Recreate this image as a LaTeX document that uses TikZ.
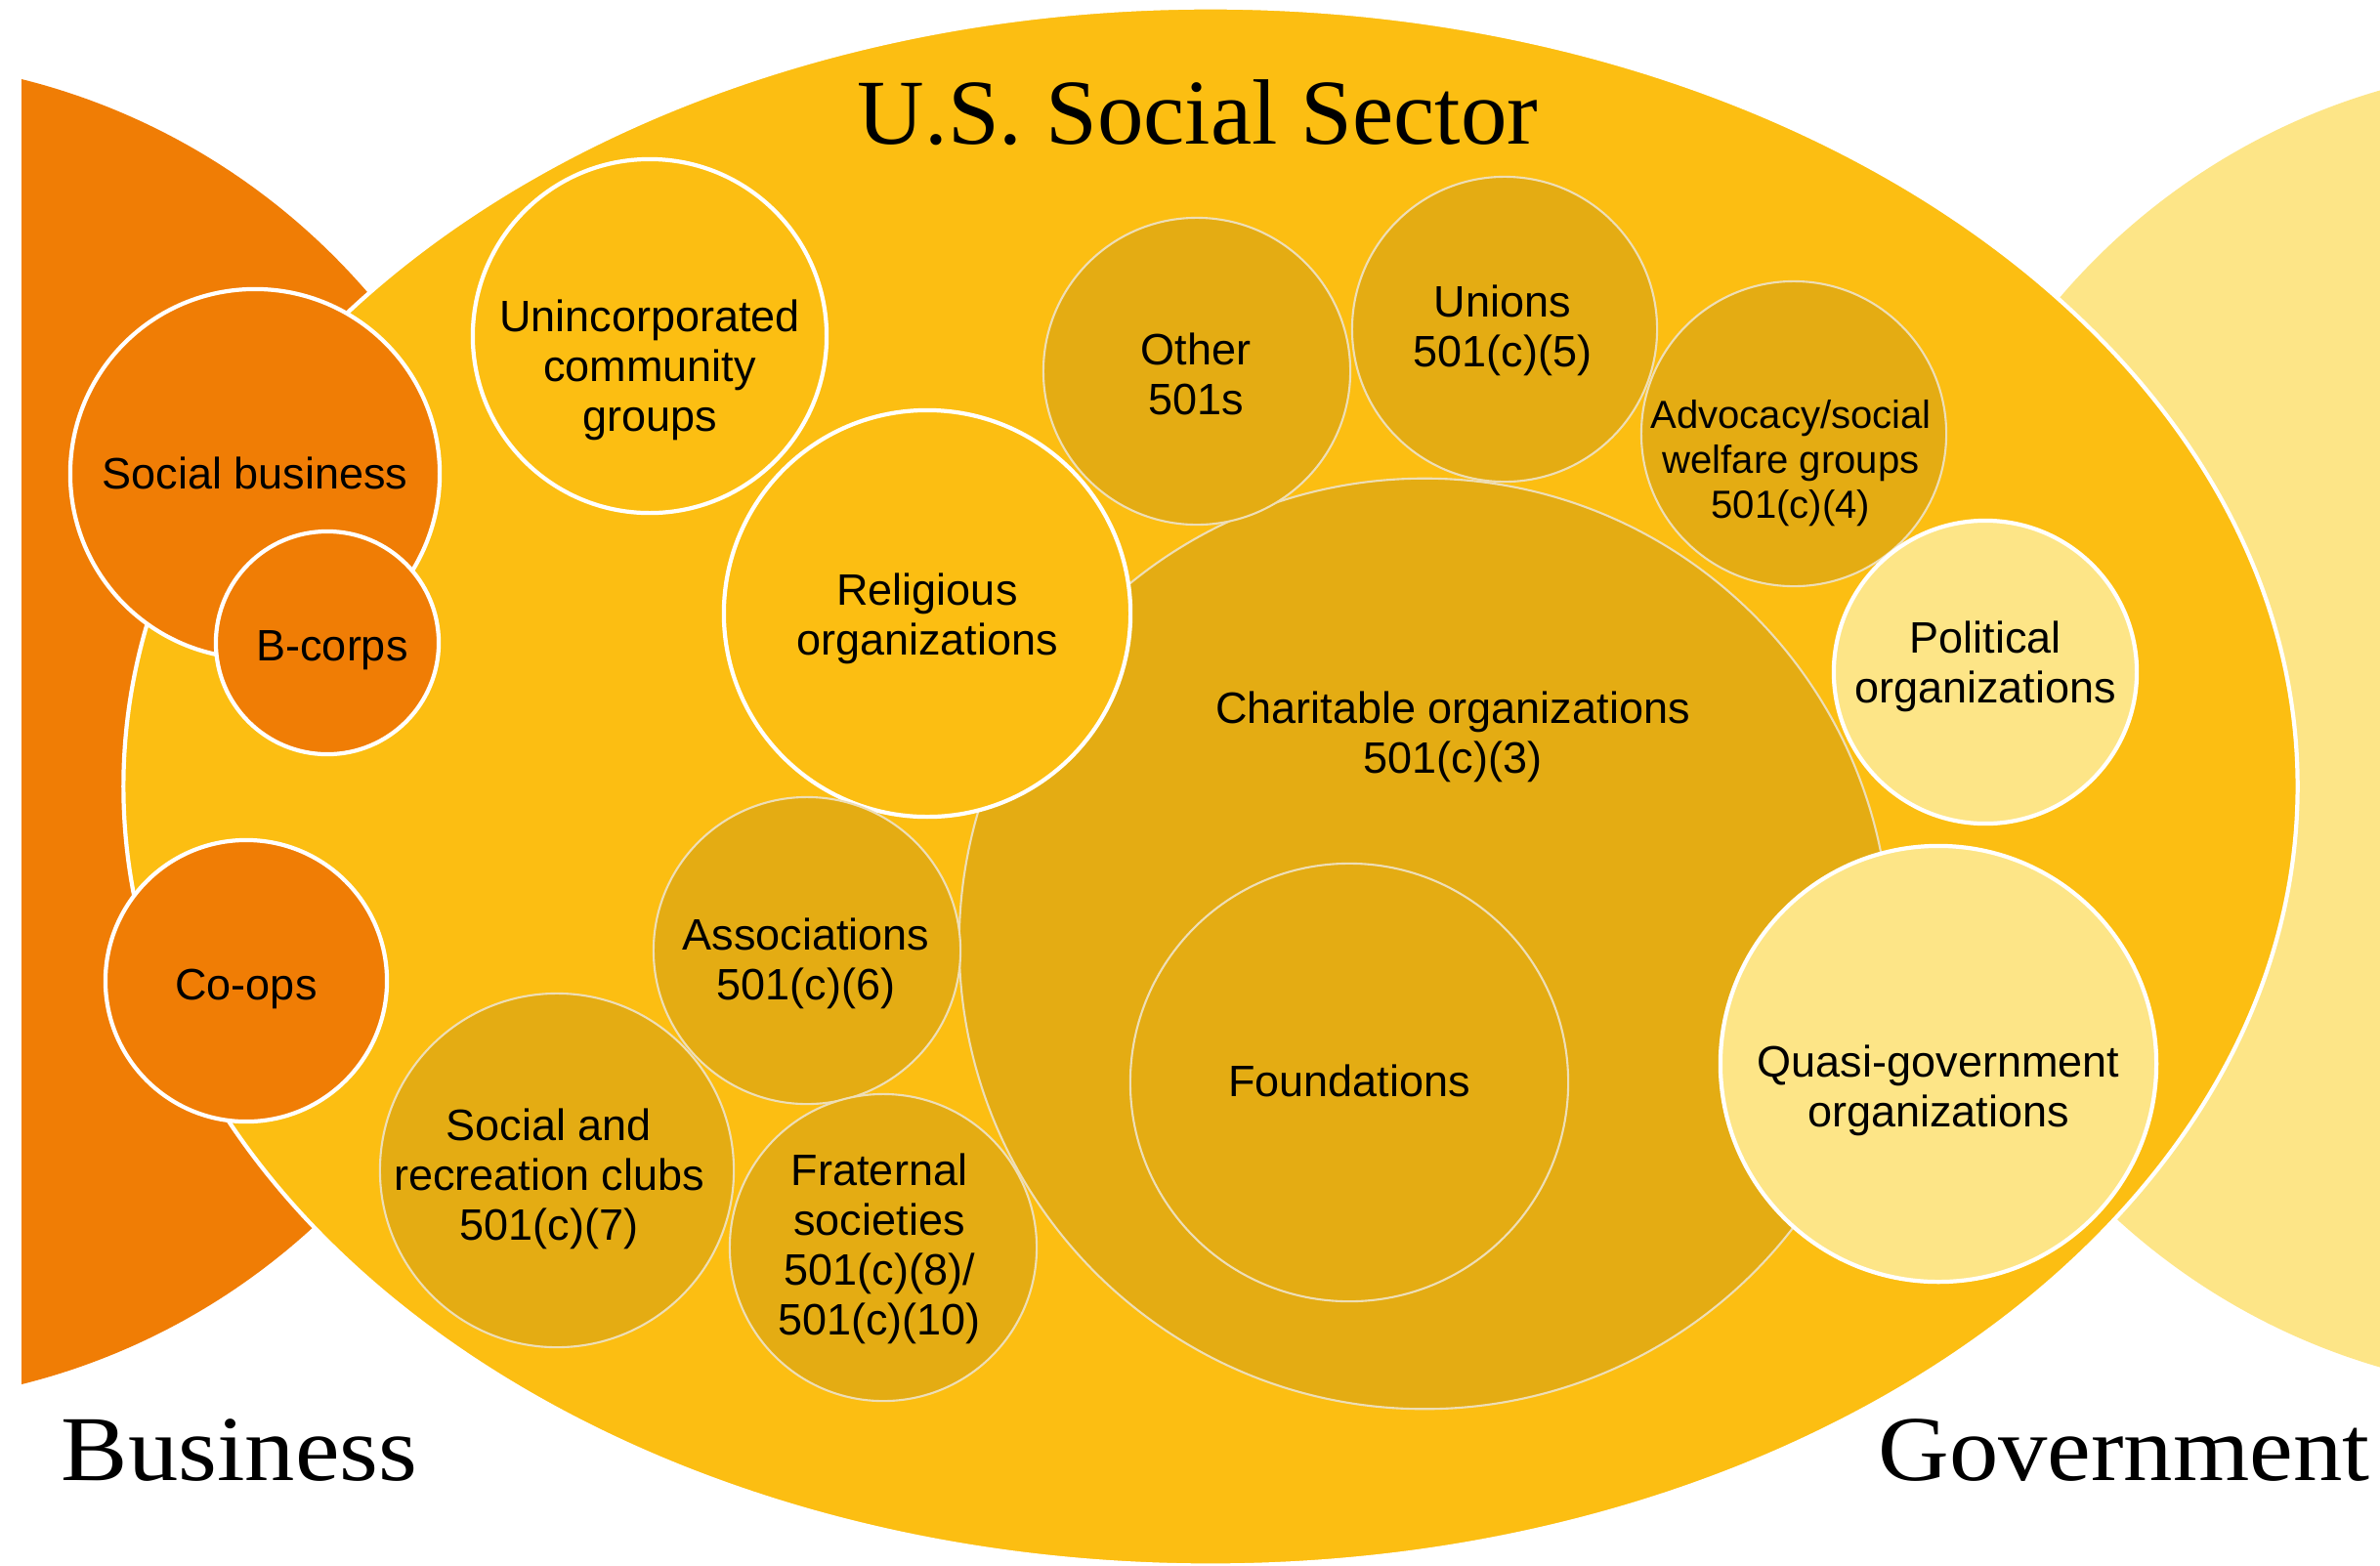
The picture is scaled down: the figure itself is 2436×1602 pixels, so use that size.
\documentclass[tikz,border=0pt]{standalone}
\usepackage{fontspec}
\setmainfont{Liberation Serif}
\setsansfont{Liberation Sans}
\usetikzlibrary{shapes.geometric}

\definecolor{sectoryellow}{RGB}{252,190,18}
\definecolor{bizorange}{RGB}{240,125,5}
\definecolor{govpale}{RGB}{253,229,135}
\definecolor{taxgold}{RGB}{228,172,19}
\definecolor{goldrim}{RGB}{238,222,182}

\tikzset{
  ball/.style={circle, inner sep=0pt, outer sep=0pt},
  whiteball/.style={ball, draw=white, line width=1.2pt},
  orangeball/.style={whiteball, fill=bizorange},
  yellowball/.style={whiteball, fill=sectoryellow},
  paleball/.style={whiteball, fill=govpale},
  goldball/.style={ball, fill=taxgold, draw=goldrim, line width=0.6pt},
  lbl/.style={align=center, inner sep=0pt, text=black,
    font=\sffamily\fontsize{12.8}{14.5}\selectfont},
  smalllbl/.style={lbl, font=\sffamily\fontsize{11.4}{13.1}\selectfont},
  heading/.style={inner sep=0pt, anchor=base, text=black,
    font=\rmfamily\fontsize{27}{30}\selectfont},
}

\begin{document}
\begin{tikzpicture}[x=0.01cm, y=-0.01cm]
\useasboundingbox (0,0) rectangle (2436,1602);

% the two neighbouring sectors, cut off at the page edges
\begin{scope}
  \clip (22,0) rectangle (2436,1602);
  \node (business) [ball, fill=bizorange, minimum size=13.76cm] at (-145,749) {};
  \node (government) [ball, fill=govpale, minimum size=13.6cm] at (2626,746) {};
\end{scope}

% the social sector
\node (sector) [ellipse, inner sep=0pt, fill=sectoryellow, draw=white, line width=1.2pt,
  minimum width=22.24cm, minimum height=15.94cm] at (1239,805) {};

% business-side organisations
\node (socbiz) [orangeball, minimum size=3.78cm] at (261,485) {};
\node (bcorps) [orangeball, minimum size=2.28cm] at (335,658) {};
\node (coops)  [orangeball, minimum size=2.88cm] at (252,1004) {};

% tax-exempt groups
\node (charit) [goldball, minimum size=9.52cm] at (1458,966) {};
\node (found)  [goldball, minimum size=4.48cm] at (1381,1108) {};
\node (relig)  [yellowball, minimum size=4.16cm] at (949,628) {};
\node (other)  [goldball, minimum size=3.14cm] at (1225,380) {};
\node (unions) [goldball, minimum size=3.12cm] at (1540,337) {};
\node (advoc)  [goldball, minimum size=3.12cm] at (1836,444) {};
\node (assoc)  [goldball, minimum size=3.14cm] at (826,973) {};
\node (socrec) [goldball, minimum size=3.62cm] at (570,1198) {};
\node (frat)   [goldball, minimum size=3.14cm] at (904,1277) {};
\node (uninc)  [yellowball, minimum size=3.62cm] at (665,344) {};

% government-side organisations
\node (polit) [paleball, minimum size=3.10cm] at (2032,688) {};
\node (quasi) [paleball, minimum size=4.46cm] at (1984,1089) {};

% labels
\node (socbiz-t) [lbl] at (261,484) {Social business};
\node (bcorps-t) [lbl] at (340,666) {B-corps};
\node (coops-t)  [lbl] at (252,1012) {Co-ops};
\node (uninc-t)  [lbl] at (665,379) {Unincorporated\\community\\groups};
\node (relig-t)  [lbl] at (949,633) {Religious\\organizations};
\node (other-t)  [lbl] at (1224,383) {Other\\501s};
\node (unions-t) [lbl] at (1538,338) {Unions\\501(c)(5)};
\node (advoc-t)  [smalllbl] at (1833,474) {Advocacy/social\\welfare groups\\501(c)(4)};
\node (charit-t) [lbl] at (1487,754) {Charitable organizations\\501(c)(3)};
\node (found-t)  [lbl] at (1381,1106) {Foundations};
\node (polit-t)  [lbl] at (2032,682) {Political\\organizations};
\node (quasi-t)  [lbl] at (1984,1116) {Quasi-government\\organizations};
\node (assoc-t)  [lbl] at (825,986) {Associations\\501(c)(6)};
\node (socrec-t) [lbl] at (562,1207) {Social and\\recreation clubs\\501(c)(7)};
\node (frat-t)   [lbl] at (900,1278) {Fraternal\\societies\\501(c)(8)/\\501(c)(10)};

% headings
\node (sector-t)     [heading] at (1226,147) {U.S. Social Sector};
\node (business-t)   [heading] at (245,1515) {\scalebox{1.08}[1]{Business}};
\node (government-t) [heading] at (2174,1515) {\scalebox{1.06}[1]{Government}};
\end{tikzpicture}
\end{document}
